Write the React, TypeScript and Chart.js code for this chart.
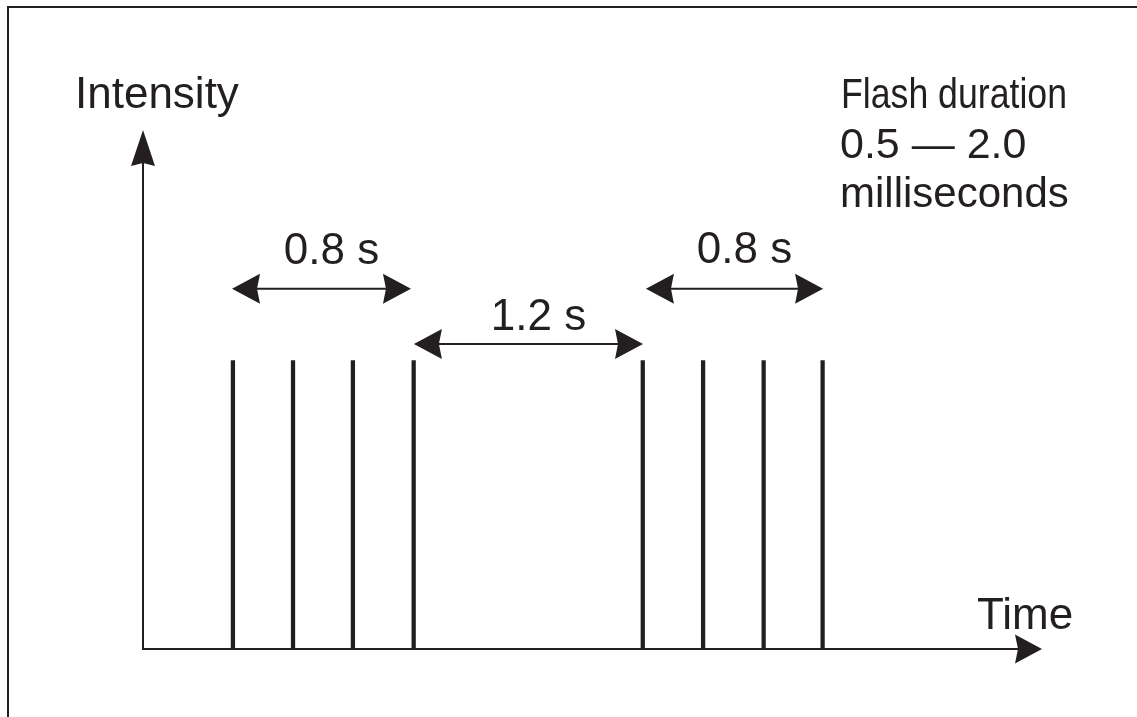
import React, { useEffect, useRef } from "react";
import { Chart, registerables } from "chart.js";

Chart.register(...registerables);

// ---- data (schematic time axis, seconds as drawn) ----
const flashTimes = [0, 0.266, 0.531, 0.8, 1.814, 2.081, 2.349, 2.61];
const flashIntensity = [1, 1, 1, 1, 1, 1, 1, 1];
const intervalStarts = [-0.004, 0.801, 1.828];
const intervalEnds = [0.788, 1.815, 2.612];
const intervalLabels = ["0.8 s", "1.2 s", "0.8 s"];
const intervalLevels = [1.249, 1.058, 1.249];
const axisTitleY = "Intensity";
const axisTitleX = "Time";
const noteLines = ["Flash duration", "0.5 \u2014 2.0", "milliseconds"];

const INK = "#231f20";
const FONT = "'Liberation Sans', Arial, sans-serif";

function arrowHead(
  ctx: CanvasRenderingContext2D,
  tx: number,
  ty: number,
  dx: number,
  dy: number,
  len: number,
  half: number
) {
  // (dx,dy) unit vector pointing toward the tip
  const bx = tx - dx * len;
  const by = ty - dy * len;
  const nx = -dy;
  const ny = dx;
  const notch = 3;
  ctx.beginPath();
  ctx.moveTo(tx, ty);
  ctx.lineTo(bx + nx * half, by + ny * half);
  ctx.lineTo(bx + dx * notch, by + dy * notch);
  ctx.lineTo(bx - nx * half, by - ny * half);
  ctx.closePath();
  ctx.fill();
}

const labelGaps = [25, 14, 26];

const schematicPlugin = {
  id: "schematic",
  afterDraw(chart: any) {
    const ctx: CanvasRenderingContext2D = chart.ctx;
    const { left, right, top, bottom } = chart.chartArea;
    const xs = chart.scales.x;
    const ys = chart.scales.y;
    ctx.save();
    ctx.strokeStyle = INK;
    ctx.fillStyle = INK;

    // frame (top + left)
    ctx.lineWidth = 2;
    ctx.beginPath();
    ctx.moveTo(8, 717);
    ctx.lineTo(8, 7);
    ctx.lineTo(1137, 7);
    ctx.stroke();

    // axes
    ctx.lineWidth = 2;
    ctx.lineCap = "square";
    ctx.beginPath();
    ctx.moveTo(left, top + 30);
    ctx.lineTo(left, bottom);
    ctx.lineTo(right - 20, bottom);
    ctx.stroke();
    ctx.lineCap = "butt";
    arrowHead(ctx, right, bottom, 1, 0, 27, 14.5);
    arrowHead(ctx, left, top, 0, -1, 36, 12);

    // interval arrows and labels
    ctx.font = `44px ${FONT}`;
    ctx.textAlign = "center";
    ctx.textBaseline = "alphabetic";
    for (let i = 0; i < intervalLabels.length; i++) {
      const x1 = xs.getPixelForValue(intervalStarts[i]);
      const x2 = xs.getPixelForValue(intervalEnds[i]);
      const py = ys.getPixelForValue(intervalLevels[i]);
      ctx.lineWidth = 2;
      ctx.beginPath();
      ctx.moveTo(x1 + 20, py);
      ctx.lineTo(x2 - 20, py);
      ctx.stroke();
      arrowHead(ctx, x1, py, -1, 0, 28, 15);
      arrowHead(ctx, x2, py, 1, 0, 28, 15);
      ctx.fillText(intervalLabels[i], (x1 + x2) / 2 + 10, py - labelGaps[i]);
    }

    // axis titles
    ctx.textAlign = "left";
    ctx.font = `44px ${FONT}`;
    ctx.fillText(axisTitleY, left - 68, top - 22);
    ctx.fillText(axisTitleX, right - 65, bottom - 20);

    // note text
    ctx.font = `43px ${FONT}`;
    const w0 = ctx.measureText(noteLines[0]).width;
    ctx.save();
    ctx.translate(841, 108);
    ctx.scale(226 / w0, 1);
    ctx.fillText(noteLines[0], 0, 0);
    ctx.restore();
    ctx.fillText(noteLines[1], 840, 158);
    ctx.font = `42px ${FONT}`;
    ctx.fillText(noteLines[2], 840, 207);

    ctx.restore();
  },
};

export default function App() {
  const canvasRef = useRef<HTMLCanvasElement | null>(null);

  useEffect(() => {
    document.body.style.margin = "0";
    const canvas = canvasRef.current;
    if (!canvas) return;
    const chart = new Chart(canvas, {
      type: "bar",
      data: {
        datasets: [
          {
            data: flashTimes.map((t, i) => ({ x: t, y: flashIntensity[i] })),
            backgroundColor: INK,
            borderWidth: 0,
            barThickness: 3.6,
          } as any,
        ],
      },
      options: {
        animation: false,
        responsive: false,
        devicePixelRatio: 1,
        layout: { padding: { left: 143, right: 95, top: 130, bottom: 68 } },
        plugins: {
          legend: { display: false },
          title: { display: false },
          tooltip: { enabled: false },
        },
        scales: {
          x: {
            type: "linear",
            display: false,
            offset: false,
            min: -0.398,
            max: 3.581,
            grid: { display: false },
          },
          y: {
            type: "linear",
            display: false,
            min: 0,
            max: 1.8,
            grid: { display: false },
          },
        },
      } as any,
      plugins: [schematicPlugin],
    });
    return () => chart.destroy();
  }, []);

  return (
    <div style={{ position: "fixed", left: 0, top: 0, width: 1137, height: 717, background: "#fff" }}>
      <canvas ref={canvasRef} width={1137} height={717} style={{ display: "block" }} />
    </div>
  );
}
